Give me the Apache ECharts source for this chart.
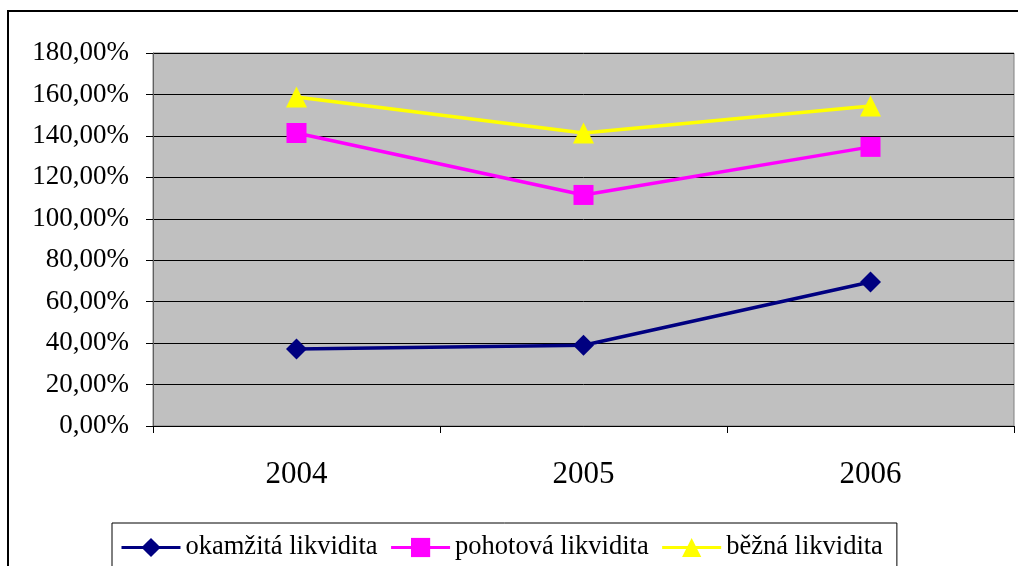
<!DOCTYPE html>
<html>
<head>
<meta charset="utf-8">
<script src="https://cdn.jsdelivr.net/npm/echarts@6/dist/echarts.min.js"></script>
<style>
  html, body { margin: 0; padding: 0; background: #fff; }
  #chart { width: 1018px; height: 566px; }
</style>
</head>
<body>
<div id="chart"></div>
<script>
// data
const years = ["2004", "2005", "2006"];
const okamzita = [37.2, 39.0, 69.5];
const pohotova = [141.4, 111.5, 134.7];
const bezna = [158.8, 141.4, 154.4];

const serifFont = '"Liberation Serif", "Times New Roman", serif';

const chart = echarts.init(document.getElementById("chart"));

function pct(v) {
    return v.toFixed(2).replace(".", ",") + "%";
}

const option = {
    animation: false,
    backgroundColor: "#fff",
    graphic: [{
        type: "rect",
        shape: { x: 8, y: 11, width: 1200, height: 700 },
        style: { fill: "none", stroke: "#000", lineWidth: 2 },
        silent: true
    }],
    grid: {
        left: 153, top: 53, right: 4, bottom: 140,
        show: true,
        backgroundColor: "#C0C0C0",
        borderColor: "#808080",
        borderWidth: 1
    },
    xAxis: {
        type: "category",
        data: years,
        boundaryGap: true,
        axisLine: { lineStyle: { color: "#000", width: 1 } },
        axisTick: { show: true, length: 7, lineStyle: { color: "#000" } },
        axisLabel: { color: "#000", fontFamily: serifFont, fontSize: 31, margin: 33 }
    },
    yAxis: {
        type: "value",
        min: 0, max: 180, interval: 20,
        axisLine: { show: true, lineStyle: { color: "#606060", width: 1 } },
        axisTick: { show: true, length: 7, lineStyle: { color: "#000" } },
        splitLine: { show: true, lineStyle: { color: "#000", width: 1 } },
        axisLabel: {
            color: "#000", fontFamily: serifFont, fontSize: 27, margin: 24,
            formatter: pct
        }
    },
    legend: {
        left: 112, top: 523,
        padding: [11, 14, 30, 8],
        borderColor: "#000", borderWidth: 1,
        backgroundColor: "#fff",
        itemWidth: 59, itemHeight: 24, itemGap: 12,
        lineStyle: { width: 3 },
        textStyle: { color: "#000", fontFamily: serifFont, fontSize: 26.5 },
        data: ["okamžitá likvidita", "pohotová likvidita", "běžná likvidita"]
    },
    series: [
        {
            name: "okamžitá likvidita", type: "line", data: okamzita,
            symbol: "diamond", symbolSize: 21,
            lineStyle: { color: "#000080", width: 3.5 },
            itemStyle: { color: "#000080" }
        },
        {
            name: "pohotová likvidita", type: "line", data: pohotova,
            symbol: "rect", symbolSize: 20,
            lineStyle: { color: "#FF00FF", width: 3.5 },
            itemStyle: { color: "#FF00FF" }
        },
        {
            name: "běžná likvidita", type: "line", data: bezna,
            symbol: "triangle", symbolSize: 21,
            lineStyle: { color: "#FFFF00", width: 3.5 },
            itemStyle: { color: "#FFFF00" }
        }
    ]
};

chart.setOption(option);
</script>
</body>
</html>
